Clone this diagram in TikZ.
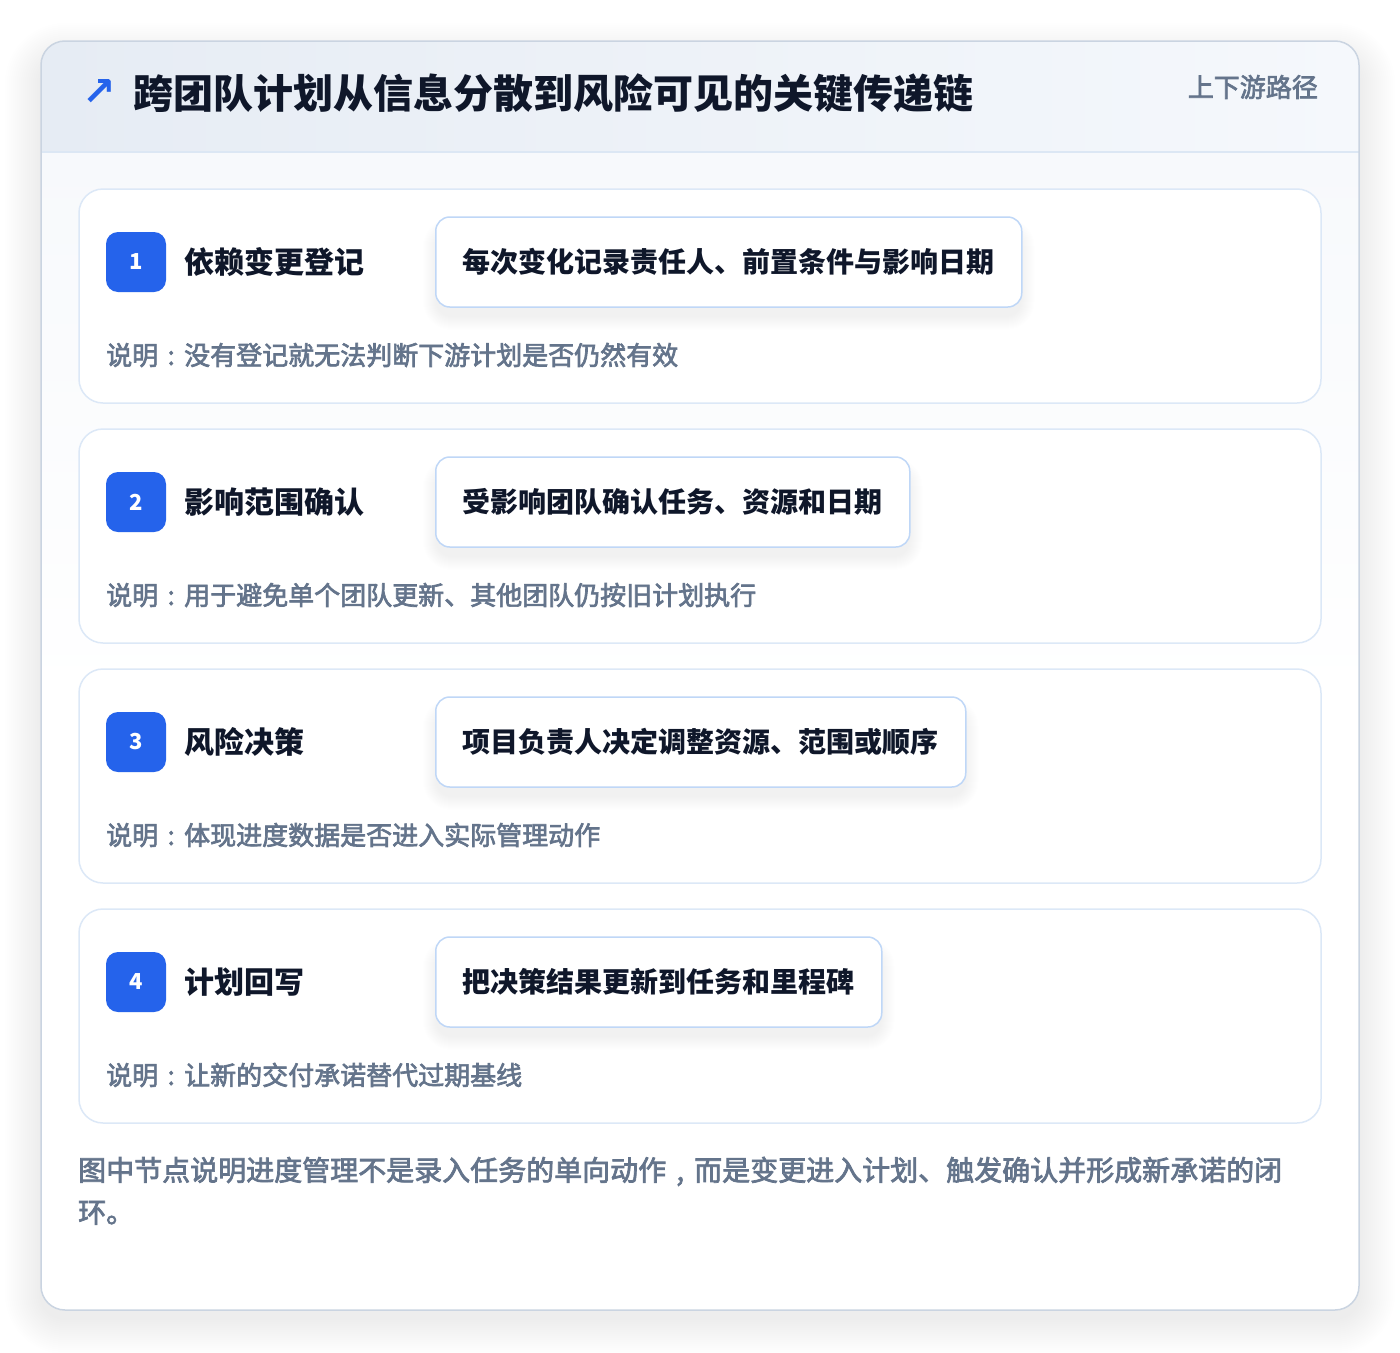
\documentclass[tikz,border=0pt]{standalone}
\usepackage{fontspec}
\setmainfont{Noto Sans CJK SC}
\newfontfamily\medfont{Noto Sans CJK SC}[FakeBold=2.6]
\newfontfamily\arrowfont{DejaVu Sans}
\newcommand\cpunct[1]{\makebox[1em][c]{#1}}
\pgfdeclarelayer{back}
\pgfdeclarelayer{cards}
\pgfdeclarelayer{shade}
\pgfsetlayers{back,cards,shade,main}
\definecolor{cardline}{HTML}{CAD4E1}
\definecolor{hdrL}{HTML}{E6ECF4}
\definecolor{hdrR}{HTML}{F5F8FC}
\definecolor{hdrline}{HTML}{DCE7F4}
\definecolor{stepline}{HTML}{DCE8F7}
\definecolor{actline}{HTML}{BFD7F7}
\definecolor{badgeblue}{HTML}{2563EB}
\definecolor{ink}{HTML}{0F172A}
\definecolor{muted}{HTML}{64748B}
\definecolor{contenttop}{HTML}{F7F9FC}
\tikzset{
  stepcard/.style={draw=stepline, line width=1.5pt, fill=white, rounded corners=24pt,
    minimum width=1242pt, minimum height=214pt, inner sep=0pt},
  badge/.style={fill=badgeblue, rounded corners=12pt, minimum width=60pt, minimum height=60pt,
    inner sep=0pt, text=white, font=\fontsize{22}{26}\selectfont\bfseries},
  steptitle/.style={anchor=base west, inner sep=0pt, text=ink, font=\fontsize{30}{36}\selectfont\bfseries},
  actbox/.style={anchor=west, draw=actline, line width=1.5pt, fill=white, rounded corners=14pt,
    minimum height=90pt, inner xsep=27pt, inner ysep=0pt, text=ink,
    text height=24.6pt, text depth=3.4pt,
    font=\fontsize{28}{34}\selectfont\bfseries},
  desc/.style={anchor=base west, inner sep=0pt, text=muted, font=\medfont\fontsize{26}{32}\selectfont},
  foot/.style={anchor=base west, inner sep=0pt, text=muted, font=\medfont\fontsize{28}{42}\selectfont},
  softshadow/.style={fill=black, opacity=0.0045},
  cardshadow/.style={fill=black, opacity=0.003},
}
\newcommand\boxshadow[1]{%
  \begin{pgfonlayer}{shade}
  \foreach \i in {1,...,14}{
    \fill[softshadow, rounded corners=14pt+\i pt] ($(#1.north west)+(-\i+2,-\i+16)$) rectangle ($(#1.south east)+(\i-2,\i+8)$);
  }
  \end{pgfonlayer}}
\usetikzlibrary{calc}
\begin{document}
\begin{tikzpicture}[x=1pt,y=-1pt]
\useasboundingbox (0,0) rectangle (1400,1352);
\begin{pgfonlayer}{back}
\fill[white] (0,0) rectangle (1400,1352);
% outer card soft shadow
\foreach \i in {2,4,...,36}{
  \fill[cardshadow, rounded corners=24pt+\i pt] (41-\i,41-\i+18) rectangle (1359+\i,1310+\i+8);
}
\fill[white, rounded corners=24pt] (41,41) rectangle (1359,1310);
\begin{scope}
  \clip[rounded corners=24pt] (41,41) rectangle (1359,1310);
  \shade[top color=contenttop, bottom color=white] (41,152) rectangle (1359,700);
  \shade[left color=hdrL, right color=hdrR] (41,41) rectangle (1359,152);
\end{scope}
\draw[hdrline, line width=1.5pt] (41,152) -- (1359,152);
\draw[cardline, line width=1.5pt, rounded corners=24pt] (41,41) rectangle (1359,1310);
\end{pgfonlayer}
% header
\node[anchor=center, inner sep=0pt, text=badgeblue, font=\arrowfont\fontsize{40}{44}\selectfont\bfseries] (arrow) at (99,93) {↗};
\node[anchor=base west, inner sep=0pt, text=ink, font=\fontsize{40}{48}\selectfont\bfseries] (title) at (133,108.2) {跨团队计划从信息分散到风险可见的关键传递链};
\node[anchor=base east, inner sep=0pt, text=muted, font=\medfont\fontsize{26}{32}\selectfont] (tag) at (1318,96.9) {上下游路径};
% step cards
\begin{pgfonlayer}{cards}
\node[stepcard] (c1) at (700,296) {};
\node[stepcard] (c2) at (700,536) {};
\node[stepcard] (c3) at (700,776) {};
\node[stepcard] (c4) at (700,1016) {};
\end{pgfonlayer}
% step 1
\node[badge] (b1) at (136,262) {1};
\node[steptitle] (t1) at (184,273.4) {依赖变更登记};
\node[actbox] (a1) at (435,262) {每次变化记录责任人、前置条件与影响日期};
\boxshadow{a1}
\node[desc] (d1) at (106,364.9) {说明\cpunct{:}没有登记就无法判断下游计划是否仍然有效};
% step 2
\node[badge] (b2) at (136,502) {2};
\node[steptitle] (t2) at (184,513.4) {影响范围确认};
\node[actbox] (a2) at (435,502) {受影响团队确认任务、资源和日期};
\boxshadow{a2}
\node[desc] (d2) at (106,604.9) {说明\cpunct{:}用于避免单个团队更新、其他团队仍按旧计划执行};
% step 3
\node[badge] (b3) at (136,742) {3};
\node[steptitle] (t3) at (184,753.4) {风险决策};
\node[actbox] (a3) at (435,742) {项目负责人决定调整资源、范围或顺序};
\boxshadow{a3}
\node[desc] (d3) at (106,844.9) {说明\cpunct{:}体现进度数据是否进入实际管理动作};
% step 4
\node[badge] (b4) at (136,982) {4};
\node[steptitle] (t4) at (184,993.4) {计划回写};
\node[actbox] (a4) at (435,982) {把决策结果更新到任务和里程碑};
\boxshadow{a4}
\node[desc] (d4) at (106,1084.9) {说明\cpunct{:}让新的交付承诺替代过期基线};
% footnote
\node[foot] (f1) at (78,1180.6) {图中节点说明进度管理不是录入任务的单向动作\cpunct{,}而是变更进入计划、触发确认并形成新承诺的闭};
\node[foot] (f2) at (78,1222.6) {环。};
\end{tikzpicture}
\end{document}
